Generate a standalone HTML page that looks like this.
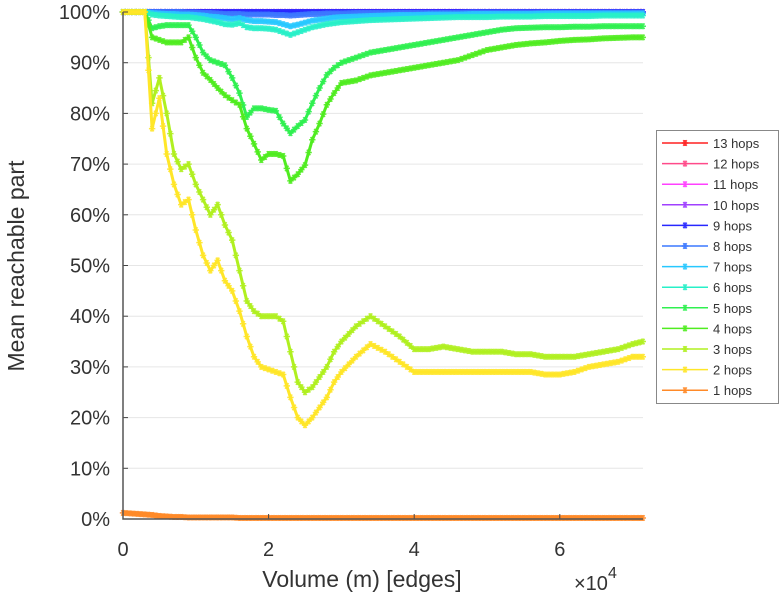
<!DOCTYPE html>
<html><head><meta charset="utf-8"><style>
body{margin:0;background:#fff}
svg{display:block;font-family:"Liberation Sans",sans-serif}
</style></head><body>
<svg id="chart" width="781" height="600" viewBox="0 0 781 600" xmlns="http://www.w3.org/2000/svg">
<g id="grid"></g>
<g id="series"></g>
<g id="axes"></g>
<text x="362" y="587" font-size="23" text-anchor="middle" fill="#333">Volume (m) [edges]</text>
<text x="574" y="590" font-size="20" fill="#333">×10<tspan dy="-12" font-size="16">4</tspan></text>
<text transform="translate(24,266) rotate(-90)" font-size="23" text-anchor="middle" fill="#333">Mean reachable part</text>
<g id="legend"></g>
</svg>
<script>
const xs=[0,0.1,0.2,0.3,0.4,0.5,0.6,0.7,0.8,0.9,1.0,1.1,1.2,1.3,1.4,1.5,1.6,1.7,1.8,1.9,2.0,2.1,2.2,2.3,2.4,2.5,2.6,2.7,2.8,2.9,3.0,3.2,3.4,3.6,3.8,4.0,4.2,4.4,4.6,4.8,5.0,5.2,5.4,5.6,5.8,6.0,6.2,6.4,6.6,6.8,7.0,7.14];
const hop1=[1.2,1.1,1.0,0.9,0.8,0.6,0.5,0.4,0.4,0.3,0.3,0.3,0.3,0.3,0.3,0.3,0.2,0.2,0.2,0.2,0.2,0.2,0.2,0.2,0.2,0.2,0.2,0.2,0.2,0.2,0.2,0.2,0.2,0.2,0.2,0.2,0.2,0.2,0.2,0.2,0.2,0.2,0.2,0.2,0.2,0.2,0.2,0.2,0.2,0.2,0.2,0.2];
const hop2=[100,100,100,100,77,83,72,66,62,63,57,52,49,51,47,45,41,36,32,30,29.5,29,28.5,24,20,18.5,20,22,24,27,29,32,34.5,33,31,29,29,29,29,29,29,29,29,29,28.5,28.5,29,30,30.5,31,32,32];
const hop3=[100,100,100,100,82,87,80,72,69,70,66,63,60,62,58,55,49,43,41,40,40,40,39,33,27,25,26,28,30,33,35,38,40,38,36,33.5,33.5,34,33.5,33,33,33,32.5,32.5,32,32,32,32.5,33,33.5,34.5,35];
const hop4=[100,100,100,100,95,94.5,94,94,94,95,91,88,86.6,85,83.6,82.6,81.7,77,74,70.8,72,72,71.6,66.7,68,69.8,74.8,78,81.7,84,86,86.5,87.5,88,88.5,89,89.5,90,90.5,91.5,92.5,93,93.5,93.8,94,94.3,94.5,94.6,94.8,94.9,95,95];
const hop5=[100,100,100,100,96.8,97.2,97.4,97.4,97.4,97.4,95,92,90.5,90,89.5,87,84,79.3,81,81,80.7,80.5,78,76.1,77.5,78.7,82,85,87.6,89,90,91,92,92.5,93,93.5,94,94.5,95,95.5,96,96.5,96.8,96.9,97,97,97.1,97.1,97.2,97.2,97.2,97.2];
const hop6=[100,100,100,100,99.5,99.3,99.2,99.1,99,99,98.8,98.6,98.3,98,97.6,97.5,97.8,97,96.8,96.8,96.7,96.5,96,95.5,96,96.5,97,97.3,97.6,97.8,98,98.2,98.4,98.5,98.6,98.7,98.8,98.9,99,99,99,99.1,99.1,99.1,99.2,99.2,99.2,99.2,99.3,99.3,99.3,99.3];
const hop7=[100,100,100,100,99.8,99.7,99.6,99.6,99.5,99.5,99.4,99.3,99.1,99,98.8,98.6,98.8,98.4,98.2,98.2,98.1,98,97.6,97.2,97.5,97.9,98.3,98.5,98.7,98.9,99,99.1,99.2,99.3,99.4,99.4,99.5,99.5,99.5,99.6,99.6,99.6,99.6,99.6,99.7,99.7,99.7,99.7,99.7,99.7,99.7,99.7];
const hop8=[100,100,100,100,100,100,100,100,100,99.9,99.9,99.8,99.8,99.7,99.6,99.6,99.6,99.5,99.5,99.5,99.5,99.4,99.4,99.3,99.4,99.5,99.6,99.6,99.7,99.7,99.7,99.8,99.8,99.8,99.8,99.8,99.8,99.8,99.8,99.9,99.9,99.9,99.9,99.9,99.9,99.9,99.9,99.9,99.9,99.9,99.9,99.9];
const hopTop=[100,100,100,100,100,100,100,100,100,100,100,100,100,100,100,100,100,100,100,100,100,100,100,100,100,100,100,100,100,100,100,100,100,100,100,100,100,100,100,100,100,100,100,100,100,100,100,100,100,100,100,100];
const seriesNames=["13 hops","12 hops","11 hops","10 hops","9 hops","8 hops","7 hops","6 hops","5 hops","4 hops","3 hops","2 hops","1 hops"];
const seriesValues=[hopTop,hopTop,hopTop,hopTop,hopTop,hop8,hop7,hop6,hop5,hop4,hop3,hop2,hop1];
const seriesColors=["#ff2020","#ff4a8a","#ff40ff","#a040ff","#2828ff","#3c78ff","#28c8ff","#28f0c8","#30f050","#50ec20","#b0f020","#ffe628","#ff8a28"];
const yTicks=[0,10,20,30,40,50,60,70,80,90,100];
const xTicks=[0,2,4,6];
const NS="http://www.w3.org/2000/svg";
const X0=123,XS=72.8,Y0=519,YS=5.07;
const xp=v=>X0+v*XS, yp=v=>Y0-v*YS;
function mk(t,a,p){const e=document.createElementNS(NS,t);for(const k in a)e.setAttribute(k,a[k]);p.appendChild(e);return e;}
const grid=document.getElementById('grid'),axes=document.getElementById('axes'),ser=document.getElementById('series'),leg=document.getElementById('legend');
yTicks.forEach(t=>{
 const l=mk('line',{x1:X0,x2:643,y1:yp(t),y2:yp(t),stroke:'#e6e6e6','stroke-width':1},grid);
 
 
 const tx=mk('text',{x:110,y:yp(t)+7,'font-size':20,'text-anchor':'end',fill:'#333'},axes);
 tx.textContent=t+'%';
 
 
 mk('line',{x1:X0,x2:X0+5,y1:yp(t),y2:yp(t),stroke:'#444'},axes);
});
xTicks.forEach(t=>{
 const tx=mk('text',{x:xp(t),y:556,'font-size':20,'text-anchor':'middle',fill:'#333'},axes);
 tx.textContent=t;
 
 
 mk('line',{x1:xp(t),x2:xp(t),y1:Y0,y2:Y0-5,stroke:'#444'},axes);
});
const ax=mk('path',{d:`M${X0} 12 V${Y0} H643`,fill:'none',stroke:'#555','stroke-width':1.5},axes);


function star(x,y,c,p){
 mk('path',{d:`M${x-3.2} ${y}H${x+3.2}M${x-1.7} ${y-2.8}L${x+1.7} ${y+2.8}M${x-1.7} ${y+2.8}L${x+1.7} ${y-2.8}M${x} ${y-3}V${y+3}`,stroke:c,'stroke-width':1.5,fill:'none','stroke-opacity':0.9},p);
}
seriesValues.forEach((vals,i)=>{
 const g=mk('g',{},ser);
 
 
 const pts=vals.map((v,j)=>xp(xs[j]).toFixed(1)+','+yp(v).toFixed(1)).join(' ');
 mk('polyline',{points:pts,fill:'none',stroke:seriesColors[i],'stroke-width':i==12?4.5:3,'stroke-linejoin':'round'},g);
 vals.forEach((v,j)=>{
  star(xp(xs[j]),yp(v),seriesColors[i],g);
  if(j<vals.length-1){
   const x1=xp(xs[j]),y1=yp(v),x2=xp(xs[j+1]),y2=yp(vals[j+1]);
   const n=Math.max(1,Math.round(Math.abs(x2-x1)/3.5));
   for(let k=1;k<n;k++)star(x1+(x2-x1)*k/n,y1+(y2-y1)*k/n,seriesColors[i],g);
  }
 });
});
const box=mk('rect',{x:656.5,y:130.5,width:122,height:273,fill:'#fff',stroke:'#888'},leg);


seriesNames.forEach((n,i)=>{
 const y=143+i*20.6;
 const g=mk('g',{},leg);
 
 
 mk('line',{x1:662,x2:708,y1:y,y2:y,stroke:seriesColors[i],'stroke-width':1.5},g);
 star(685,y,seriesColors[i],g);
 const t=mk('text',{x:713,y:y+5,'font-size':13,fill:'#333'},g);
 t.textContent=n;
});
</script>
</body></html>
